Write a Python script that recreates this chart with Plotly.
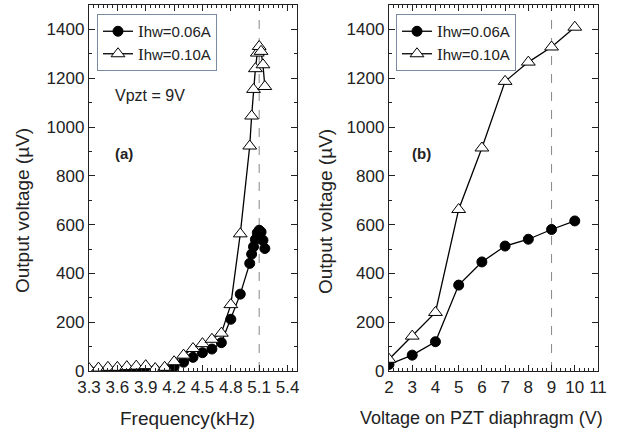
import plotly.graph_objects as go

# Panel (a): frequency sweep (kHz) vs output voltage (µV)
freq_a_06 = [3.3, 3.4, 3.5, 3.6, 3.7, 3.8, 3.9, 4.0, 4.1, 4.2, 4.3, 4.4, 4.5, 4.6, 4.7, 4.8, 4.9,
             5.0, 5.02, 5.04, 5.06, 5.08, 5.1, 5.12, 5.14, 5.16]
volt_a_06 = [3, 3, 3, 4, 4, 5, 5, 4, 5, 18, 36, 56, 75, 90, 116, 212, 315,
             441, 479, 509, 539, 566, 577, 570, 536, 502]
freq_a_10 = [3.3, 3.4, 3.5, 3.6, 3.7, 3.8, 3.9, 4.0, 4.1, 4.2, 4.3, 4.4, 4.5, 4.6, 4.7, 4.8, 4.9,
             5.0, 5.02, 5.04, 5.06, 5.08, 5.1, 5.12, 5.14, 5.16]
volt_a_10 = [10, 12, 15, 15, 18, 20, 22, 10, 15, 38, 65, 92, 112, 130, 155, 272, 562,
             922, 1045, 1154, 1239, 1303, 1330, 1310, 1255, 1166]

# Panel (b): PZT drive voltage (V) vs output voltage (µV)
vpzt_b = [2, 3, 4, 5, 6, 7, 8, 9, 10]
volt_b_06 = [27, 65, 120, 352, 447, 512, 540, 580, 615]
volt_b_10 = [48, 143, 240, 662, 914, 1187, 1266, 1328, 1409]

tickvals_a = [3.3, 3.6, 3.9, 4.2, 4.5, 4.8, 5.1, 5.4]
ticktext_a = ["3.3", "3.6", "3.9", "4.2", "4.5", "4.8", "5.1", "5.4"]
tickvals_y = [0, 200, 400, 600, 800, 1000, 1200, 1400]

label_06 = "<span style='font-family:Liberation Serif;font-size:17px'>I</span>hw=0.06A"
label_10 = "<span style='font-family:Liberation Serif;font-size:17px'>I</span>hw=0.10A"

W, H = 618, 434


def px(x):
    return x / W


def py(y):
    return 1 - y / H


FONT = "Liberation Sans, Arial, sans-serif"
circ = dict(symbol="circle", size=10, color="black", line=dict(color="black", width=1))
tri_open = dict(symbol="triangle-up", size=12, color="white", line=dict(color="black", width=1))
line = dict(color="black", width=1.3)

fig = go.Figure()
fig.add_trace(go.Scatter(x=freq_a_06, y=volt_a_06, mode="lines+markers", name=label_06,
                         marker=circ, line=line, xaxis="x", yaxis="y", legend="legend"))
fig.add_trace(go.Scatter(x=freq_a_10, y=volt_a_10, mode="lines+markers", name=label_10,
                         marker=tri_open, line=line, xaxis="x", yaxis="y", legend="legend"))
fig.add_trace(go.Scatter(x=vpzt_b, y=volt_b_06, mode="lines+markers", name=label_06,
                         marker=circ, line=line, xaxis="x2", yaxis="y2", legend="legend2"))
fig.add_trace(go.Scatter(x=vpzt_b, y=volt_b_10, mode="lines+markers", name=label_10,
                         marker=tri_open, line=line, xaxis="x2", yaxis="y2", legend="legend2"))

ydom = [py(371), py(5)]
axis_common = dict(showline=True, linecolor="#222", linewidth=1.3, mirror="allticks",
                   ticks="inside", ticklen=6, tickwidth=1, tickcolor="#222",
                   showgrid=False, zeroline=False, automargin=False,
                   tickfont=dict(family=FONT, size=17, color="#222"))
title_font = dict(family=FONT, size=19, color="#222")
legend_common = dict(xanchor="left", yanchor="top", bordercolor="#7a8aa0", borderwidth=1,
                     bgcolor="white", font=dict(family=FONT, size=15, color="#222"),
                     tracegroupgap=0, itemwidth=30)

fig.update_layout(
    width=W, height=H,
    margin=dict(l=0, r=0, t=0, b=0, autoexpand=False),
    plot_bgcolor="white", paper_bgcolor="white",
    font=dict(family=FONT, color="#222"),
    xaxis=dict(domain=[px(89), px(297)], range=[3.3, 5.5], tickmode="array",
               tickvals=tickvals_a, ticktext=ticktext_a,
               minor=dict(ticks="inside", ticklen=3, dtick=0.05, tick0=3.3, tickcolor="#222"),
               anchor="y", **axis_common),
    yaxis=dict(domain=ydom, range=[0, 1500], tickvals=tickvals_y,
               minor=dict(ticks="inside", ticklen=3, dtick=100, tickcolor="#222"),
               anchor="x", **axis_common),
    xaxis2=dict(domain=[px(389), px(598)], range=[2, 11], dtick=1,
                minor=dict(ticks="inside", ticklen=3, dtick=0.2, tickcolor="#222"),
                anchor="y2", **axis_common),
    yaxis2=dict(domain=ydom, range=[0, 1500], tickvals=tickvals_y,
                minor=dict(ticks="inside", ticklen=3, dtick=100, tickcolor="#222"),
                anchor="x2", **axis_common),
    legend=dict(x=px(97), y=py(14), **legend_common),
    legend2=dict(x=px(396), y=py(14), **legend_common),
    showlegend=True,
)

fig.add_shape(type="line", x0=5.1, x1=5.1, y0=0, y1=1, xref="x", yref="y domain",
              line=dict(color="#888", width=1, dash="dash"), layer="below")
fig.add_shape(type="line", x0=9, x1=9, y0=0, y1=1, xref="x2", yref="y2 domain",
              line=dict(color="#888", width=1, dash="dash"), layer="below")

# axis titles
fig.add_annotation(x=px(187.5), y=py(418), xref="paper", yref="paper", xanchor="center",
                   yanchor="middle", text="Frequency(kHz)", showarrow=False, font=title_font)
fig.add_annotation(x=px(482), y=py(418), xref="paper", yref="paper", xanchor="center",
                   yanchor="middle", text="Voltage on PZT diaphragm (V)", showarrow=False,
                   font=dict(family=FONT, size=18, color="#222"))
fig.add_annotation(x=px(23), y=py(211), xref="paper", yref="paper", xanchor="center",
                   yanchor="middle", text="Output voltage (µV)", showarrow=False,
                   textangle=-90, font=title_font)
fig.add_annotation(x=px(326), y=py(211), xref="paper", yref="paper", xanchor="center",
                   yanchor="middle", text="Output voltage (µV)", showarrow=False,
                   textangle=-90, font=title_font)

fig.add_annotation(x=px(113), y=py(95), xref="paper", yref="paper", xanchor="left",
                   yanchor="middle", text="Vpzt = 9V", showarrow=False,
                   font=dict(family=FONT, size=16, color="#222"))
fig.add_annotation(x=px(113), y=py(153), xref="paper", yref="paper", xanchor="left",
                   yanchor="middle", text="<b>(a)</b>", showarrow=False,
                   font=dict(family=FONT, size=15, color="#222"))
fig.add_annotation(x=px(410), y=py(153), xref="paper", yref="paper", xanchor="left",
                   yanchor="middle", text="<b>(b)</b>", showarrow=False,
                   font=dict(family=FONT, size=15, color="#222"))

# remove the default 8px page margin so the 618x434 figure fills the window exactly
fig.write_html("out.html", config={"displayModeBar": False},
               post_script="document.body.style.margin='0';")
